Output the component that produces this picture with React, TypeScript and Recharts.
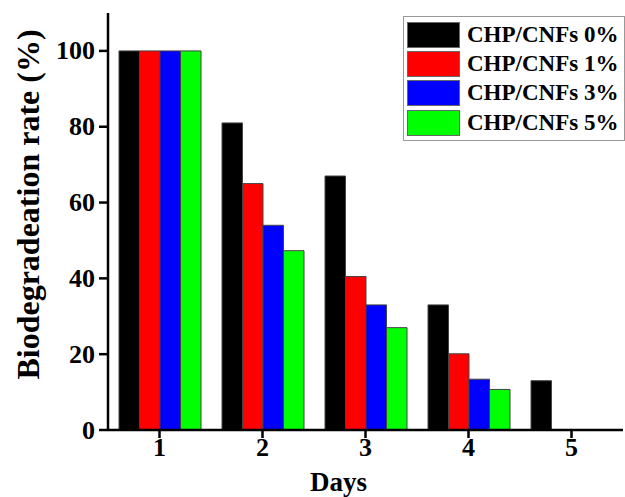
import React from 'react';
import { BarChart, Bar, XAxis, YAxis, Legend, Label } from 'recharts';

const days = ['1', '2', '3', '4', '5'];
const chp0 = [100, 81, 67, 33, 13];
const chp1 = [100, 65, 40.5, 20.1, 0];
const chp3 = [100, 54, 33, 13.4, 0];
const chp5 = [100, 47.3, 27, 10.7, 0];
const seriesNames = ['CHP/CNFs 0%', 'CHP/CNFs 1%', 'CHP/CNFs 3%', 'CHP/CNFs 5%'];
const seriesColors = ['#000000', '#ff0000', '#0000ff', '#00ff00'];
const yTicks = [0, 20, 40, 60, 80, 100];

const data = days.map((d, i) => ({ day: d, s0: chp0[i], s1: chp1[i], s2: chp3[i], s3: chp5[i] }));

const FONT = '"Liberation Serif", "Times New Roman", serif';

const LegendBox = (props: any) => {
  const payload = props.payload || [];
  return (
    <div style={{ border: '1px solid #999', background: '#fff', padding: '3px 0 3px 3px', width: 222, boxSizing: 'border-box' }}>
      {payload.map((p: any, i: number) => (
        <div key={i} style={{ display: 'flex', alignItems: 'center', height: 29.3 }}>
          <div style={{ width: 53, height: 26, background: p.color, border: '1px solid #666', boxSizing: 'border-box' }} />
          <span style={{ marginLeft: 7, fontFamily: FONT, fontWeight: 'bold', fontSize: 23, color: '#000', lineHeight: '26px', whiteSpace: 'nowrap' }}>{p.value}</span>
        </div>
      ))}
    </div>
  );
};

const YTitle = (props: any) => {
  const vb = props.viewBox;
  const cx = vb.x + 28;
  const cy = vb.y + vb.height / 2 - 17;
  return (
    <text x={cx} y={cy} transform={`rotate(-90 ${cx} ${cy})`} textAnchor="middle" dominantBaseline="central"
      style={{ fontFamily: FONT, fontWeight: 'bold', fontSize: 32, fill: '#000' }}>
      Biodegradeation rate (%)
    </text>
  );
};

const XTitle = (props: any) => {
  const vb = props.viewBox;
  const cx = vb.x + vb.width / 2 - 27;
  const by = vb.y + 61;
  return (
    <text x={cx} y={by} textAnchor="middle" style={{ fontFamily: FONT, fontWeight: 'bold', fontSize: 27, fill: '#000' }}>
      Days
    </text>
  );
};

const XTick = (props: any) => {
  const { x, y, payload } = props;
  return (
    <text x={x} y={y + 18} textAnchor="middle" style={{ fontFamily: FONT, fontWeight: 'bold', fontSize: 26, fill: '#000' }}>
      {payload.value}
    </text>
  );
};

const YTick = (props: any) => {
  const { x, y, payload } = props;
  return (
    <text x={x} y={y} textAnchor="end" dominantBaseline="central" style={{ fontFamily: FONT, fontWeight: 'bold', fontSize: 26, fill: '#000' }}>
      {payload.value}
    </text>
  );
};

export default function App() {
  const keys = ['s0', 's1', 's2', 's3'];
  return (
    <div style={{ position: 'absolute', left: 0, top: 0, width: 625, height: 497, background: '#fff' }}>
      <BarChart width={625} height={497} data={data} margin={{ top: 13, right: 2, bottom: 0, left: 0 }} barGap={0} barSize={20.5}>
        <XAxis dataKey="day" height={67} axisLine={{ stroke: '#000', strokeWidth: 2.5 }}
          tickLine={{ stroke: '#000', strokeWidth: 2.5 }} tickSize={8} tickMargin={0}
          tick={<XTick />}>
          <Label content={<XTitle />} />
        </XAxis>
        <XAxis xAxisId="top" dataKey="day" orientation="top" height={0} tick={false} tickLine={false}
          axisLine={{ stroke: '#000', strokeWidth: 2.5 }} />
        <YAxis width={108} domain={[0, 110]} ticks={yTicks} axisLine={{ stroke: '#000', strokeWidth: 2.5 }}
          tickLine={{ stroke: '#000', strokeWidth: 2.5 }} tickSize={9} tickMargin={4}
          tick={<YTick />}>
          <Label content={<YTitle />} />
        </YAxis>
        <YAxis yAxisId="right" orientation="right" width={0} domain={[0, 110]} tick={false} tickLine={false}
          axisLine={{ stroke: '#000', strokeWidth: 2.5 }} />
        <Legend layout="horizontal" verticalAlign="middle" align="center" content={<LegendBox />}
          wrapperStyle={{ position: 'absolute', left: 403, top: 16, width: 222 }} />
        {keys.map((k, i) => (
          <Bar key={k} dataKey={k} name={seriesNames[i]} fill={seriesColors[i]} stroke="#444" strokeWidth={1}
            isAnimationActive={false} />
        ))}
      </BarChart>
    </div>
  );
}
